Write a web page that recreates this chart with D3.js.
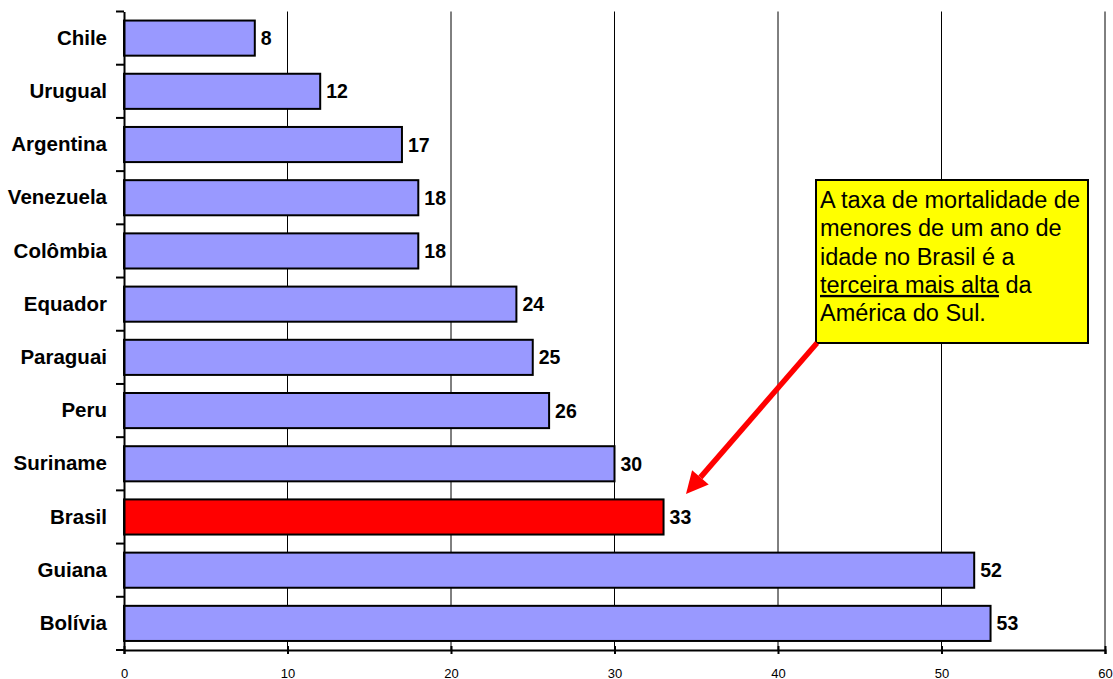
<!DOCTYPE html>
<html>
<head>
<meta charset="utf-8">
<script src="https://cdn.jsdelivr.net/npm/d3@7"></script>
<style>
  html, body { margin: 0; padding: 0; background: #fff; }
  svg { display: block; font-family: Arial, "Liberation Sans", sans-serif; }
</style>
</head>
<body>
<svg id="chart" width="1113" height="679"></svg>
<script>
// Infant mortality (deaths under one year per 1000 live births), South America
const countries = ["Chile", "Urugual", "Argentina", "Venezuela", "Colômbia", "Equador",
                   "Paraguai", "Peru", "Suriname", "Brasil", "Guiana", "Bolívia"];
const rates = [8, 12, 17, 18, 18, 24, 25, 26, 30, 33, 52, 53];
const xTicks = [0, 10, 20, 30, 40, 50, 60];
const highlight = "Brasil";

const noteLines = [
  [{ t: "A taxa de mortalidade de" }],
  [{ t: "menores de um ano de" }],
  [{ t: "idade no Brasil é a" }],
  [{ t: "terceira mais alta", u: true }, { t: " da" }],
  [{ t: "América do Sul." }]
];

const data = countries.map((c, i) => ({ country: c, value: rates[i] }));

const svg = d3.select("#chart");
const plotLeft = 124, plotRight = 1105, plotTop = 11.5, plotBottom = 650;

const x = d3.scaleLinear().domain([0, 60]).range([plotLeft, plotRight]);
const y = d3.scaleBand().domain(countries).range([plotTop, plotBottom])
  .paddingInner(0.34).paddingOuter(0.17);

// vertical gridlines
svg.append("g").selectAll("line").data(xTicks.filter(d => d > 0)).join("line")
  .attr("x1", d => x(d)).attr("x2", d => x(d))
  .attr("y1", plotTop).attr("y2", plotBottom)
  .attr("stroke", "#000").attr("stroke-width", 1);

// bars
svg.append("g").selectAll("rect").data(data).join("rect")
  .attr("x", x(0))
  .attr("y", d => y(d.country))
  .attr("width", d => x(d.value) - x(0))
  .attr("height", y.bandwidth())
  .attr("fill", d => d.country === highlight ? "#FF0000" : "#9999FF")
  .attr("stroke", "#000").attr("stroke-width", 2);

// value labels
svg.append("g").selectAll("text").data(data).join("text")
  .attr("x", d => x(d.value) + 6)
  .attr("y", d => y(d.country) + y.bandwidth() / 2)
  .attr("dy", "0.36em")
  .attr("font-size", 19.5).attr("font-weight", "bold")
  .text(d => d.value);

// category axis
const yAxis = svg.append("g").attr("transform", `translate(${plotLeft},0)`)
  .call(d3.axisLeft(y).tickSize(0).tickPadding(17));
yAxis.select(".domain").attr("stroke", "#000").attr("stroke-width", 2);
yAxis.selectAll("text").attr("font-size", 20.5).attr("font-weight", "bold")
  .attr("fill", "#000").attr("font-family", "Arial, 'Liberation Sans', sans-serif");

// category boundary ticks
const bounds = d3.range(countries.length + 1).map(i => plotTop + i * y.step());
svg.append("g").selectAll("line").data(bounds).join("line")
  .attr("x1", plotLeft - 8).attr("x2", plotLeft)
  .attr("y1", d => d).attr("y2", d => d)
  .attr("stroke", "#000").attr("stroke-width", 2);

// value axis
const xAxis = svg.append("g").attr("transform", `translate(0,${plotBottom})`)
  .call(d3.axisBottom(x).tickValues(xTicks).tickSize(4).tickPadding(18));
xAxis.select(".domain").attr("stroke", "#000").attr("stroke-width", 2);
xAxis.selectAll(".tick line").attr("stroke", "#000").attr("stroke-width", 2)
  .attr("y1", -4);
xAxis.selectAll("text").attr("font-size", 13).attr("fill", "#000")
  .attr("dy", null).attr("dominant-baseline", "auto")
  .attr("font-family", "Arial, 'Liberation Sans', sans-serif");
xAxis.selectAll(".tick text").attr("y", 27.5);

// annotation box
const note = svg.append("g");
const bx = 816, by = 180, bw = 272, bh = 163;
note.append("rect").attr("x", bx).attr("y", by).attr("width", bw).attr("height", bh)
  .attr("fill", "#FFFF00").attr("stroke", "#000").attr("stroke-width", 2);
const noteText = note.append("text").attr("font-size", 23.5).attr("fill", "#000");
noteLines.forEach((parts, i) => {
  parts.forEach((p, j) => {
    const ts = noteText.append("tspan").text(p.t);
    if (j === 0) ts.attr("x", bx + 4).attr("y", by + 28 + i * 28.3);
    if (p.u) ts.attr("text-decoration", "underline");
  });
});

// arrow pointing at the highlighted bar
const ax1 = 817, ay1 = 343, ax2 = 686, ay2 = 494;
const ang = Math.atan2(ay2 - ay1, ax2 - ax1);
const headLen = 22, headW = 11;
const bxh = ax2 - headLen * Math.cos(ang), byh = ay2 - headLen * Math.sin(ang);
svg.append("line")
  .attr("x1", ax1).attr("y1", ay1).attr("x2", bxh).attr("y2", byh)
  .attr("stroke", "#FF0000").attr("stroke-width", 5.5);
svg.append("path")
  .attr("d", d3.line()([
    [ax2, ay2],
    [bxh + headW * Math.sin(ang), byh - headW * Math.cos(ang)],
    [bxh - headW * Math.sin(ang), byh + headW * Math.cos(ang)]
  ]) + "Z")
  .attr("fill", "#FF0000");
</script>
</body>
</html>
